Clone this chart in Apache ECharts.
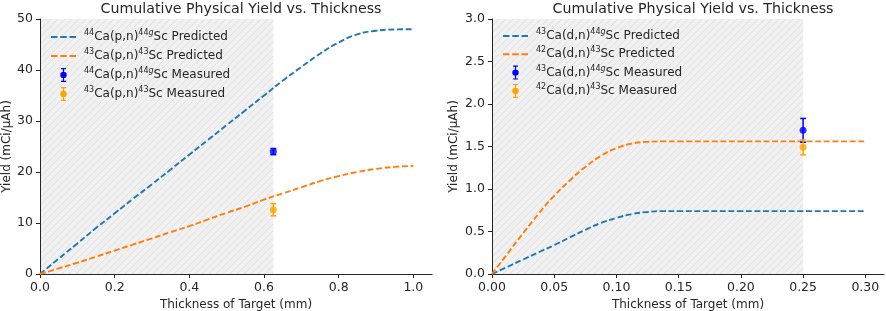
<!DOCTYPE html>
<html>
<head>
<meta charset="utf-8">
<script src="https://cdn.jsdelivr.net/npm/echarts@6/dist/echarts.min.js"></script>
<style>
  html, body { margin: 0; padding: 0; background: #fff; }
  #chart { width: 886px; height: 311px; }
</style>
</head>
<body>
<div id="chart"></div>
<script>
// left panel: (p,n) reactions
const pnThickness = [0, 0.05, 0.1, 0.15, 0.2, 0.25, 0.3, 0.35, 0.4, 0.45, 0.5, 0.55, 0.6, 0.65, 0.7, 0.75, 0.8, 0.85, 0.9, 0.95, 1.0];
const pn44Predicted = [0, 3.0, 6.0, 9.0, 11.9, 14.8, 17.6, 20.5, 23.4, 26.3, 29.2, 32.1, 35.0, 37.9, 40.6, 43.2, 45.4, 47.0, 47.7, 47.95, 48.0];
const pn43Predicted = [0, 1.1, 2.2, 3.4, 4.6, 5.8, 7.0, 8.2, 9.4, 10.7, 12.0, 13.2, 14.6, 15.8, 17.0, 18.2, 19.2, 20.0, 20.6, 21.0, 21.2];
const pn44Measured = [[0.625, 24.0, 0.6]];   // [thickness, yield, error]
const pn43Measured = [[0.625, 12.6, 1.2]];
const pnShadeEnd = 0.625;
const pnXTicks = [0, 0.2, 0.4, 0.6, 0.8, 1.0];

// right panel: (d,n) reactions
const dnThickness = [0, 0.0125, 0.025, 0.0375, 0.05, 0.0625, 0.075, 0.0875, 0.1, 0.1125, 0.125, 0.1375, 0.15, 0.2, 0.25, 0.3];
const dn43Predicted = [0, 0.085, 0.17, 0.255, 0.34, 0.43, 0.52, 0.6, 0.66, 0.705, 0.73, 0.74, 0.74, 0.74, 0.74, 0.74];
const dn42Predicted = [0, 0.24, 0.48, 0.71, 0.92, 1.1, 1.26, 1.39, 1.48, 1.535, 1.555, 1.56, 1.56, 1.56, 1.56, 1.56];
const dn43Measured = [[0.25, 1.69, 0.14]];
const dn42Measured = [[0.25, 1.49, 0.088]];
const dnShadeEnd = 0.25;
const dnXTicks = [0, 0.05, 0.1, 0.15, 0.2, 0.25, 0.3];

const names = {
    pn44p: '{s|44}Ca(p,n){s|44}{si|g}Sc Predicted',
    pn43p: '{s|43}Ca(p,n){s|43}Sc Predicted',
    pn44m: '{s|44}Ca(p,n){s|44}{si|g}Sc Measured',
    pn43m: '{s|43}Ca(p,n){s|43}Sc Measured',
    dn43p: '{s|43}Ca(d,n){s|44}{si|g}Sc Predicted',
    dn42p: '{s|42}Ca(d,n){s|43}Sc Predicted',
    dn43m: '{s|43}Ca(d,n){s|44}{si|g}Sc Measured',
    dn42m: '{s|42}Ca(d,n){s|43}Sc Measured'
};

const FONT = 'DejaVu Sans';
const axisColor = '#262626';
const C_BLUE = '#1f77b4', C_ORANGE = '#ff7f0e', M_BLUE = '#0000ff', M_ORANGE = '#ffa500';
const errIcon = 'path://M1.5,0 L6.5,0 L6.5,1.2 L4.6,1.2 L4.6,12.8 L6.5,12.8 L6.5,14 L1.5,14 L1.5,12.8 L3.4,12.8 L3.4,1.2 L1.5,1.2 Z M7.2,7 A3.2,3.2 0 1,1 0.8,7 A3.2,3.2 0 1,1 7.2,7 Z';
const dashIcon = 'path://M0,0 L6,0 L6,1.9 L0,1.9 Z M8.6,0 L14.6,0 L14.6,1.9 L8.6,1.9 Z M17.2,0 L23.2,0 L23.2,1.9 L17.2,1.9 Z';

// hatch pattern for the shaded region
const hatch = document.createElement('canvas');
hatch.width = 7; hatch.height = 7;
(function () {
    const c = hatch.getContext('2d');
    c.fillStyle = '#f1f1f1';
    c.fillRect(0, 0, 7, 7);
    c.strokeStyle = '#e2e2e2';
    c.lineWidth = 1;
    c.beginPath();
    c.moveTo(-1, 8); c.lineTo(8, -1);
    c.moveTo(-4.5, 4.5); c.lineTo(4.5, -4.5);
    c.moveTo(2.5, 11.5); c.lineTo(11.5, 2.5);
    c.stroke();
})();

const zip = (xs, ys) => xs.map((x, i) => [x, ys[i]]);

const richText = {
    s: { fontFamily: FONT, fontSize: 8, verticalAlign: 'top', lineHeight: 9, color: '#262626' },
    si: { fontFamily: FONT, fontSize: 8, fontStyle: 'italic', verticalAlign: 'top', lineHeight: 9, color: '#262626' }
};

function lineSeries(name, xi, yi, xs, ys, color, shadeEnd) {
    const s = {
        name: name, type: 'line', xAxisIndex: xi, yAxisIndex: yi,
        data: zip(xs, ys), symbol: 'none', showSymbol: false, smooth: true,
        color: color,
        lineStyle: { color: color, width: 1.9, type: [6, 2.6] },
        z: 3
    };
    if (shadeEnd !== undefined) {
        s.markArea = {
            silent: true,
            itemStyle: { color: { image: hatch, repeat: 'repeat' } },
            data: [[{ xAxis: 0 }, { xAxis: shadeEnd }]],
            z: 0
        };
    }
    return s;
}

function errorSeries(name, xi, yi, data, color) {
    return [{
        name: name, type: 'custom', xAxisIndex: xi, yAxisIndex: yi,
        color: color, data: data, z: 4,
        renderItem: function (params, api) {
            const x = api.value(0), y = api.value(1), e = api.value(2);
            const top = api.coord([x, y + e]);
            const bot = api.coord([x, y - e]);
            const cw = 3;
            const st = { stroke: color, lineWidth: 1.5 };
            return {
                type: 'group',
                children: [
                    { type: 'line', shape: { x1: top[0], y1: top[1], x2: bot[0], y2: bot[1] }, style: st },
                    { type: 'line', shape: { x1: top[0] - cw, y1: top[1], x2: top[0] + cw, y2: top[1] }, style: st },
                    { type: 'line', shape: { x1: bot[0] - cw, y1: bot[1], x2: bot[0] + cw, y2: bot[1] }, style: st }
                ]
            };
        }
    }, {
        name: name, type: 'scatter', xAxisIndex: xi, yAxisIndex: yi,
        color: color, symbol: 'circle', symbolSize: 7,
        data: data.map(d => [d[0], d[1]]), z: 5
    }];
}

function xAxis(gi, max, ticks, digits) {
    return {
        type: 'value', gridIndex: gi, min: 0, max: max,
        name: 'Thickness of Target (mm)', nameLocation: 'middle', nameGap: 24,
        nameTextStyle: { fontFamily: FONT, fontSize: 12, color: '#262626' },
        axisLine: { show: true, lineStyle: { color: axisColor, width: 1 } },
        axisTick: { show: true, length: 4, customValues: ticks, lineStyle: { color: axisColor } },
        axisLabel: {
            customValues: ticks, margin: 7,
            fontFamily: FONT, fontSize: 12.5, color: '#262626',
            formatter: v => v.toFixed(digits)
        },
        splitLine: { show: false }
    };
}

function yAxis(gi, max, interval, digits, gap) {
    return {
        type: 'value', gridIndex: gi, min: 0, max: max, interval: interval,
        name: 'Yield (mCi/\u03bcAh)', nameLocation: 'middle', nameGap: gap,
        nameTextStyle: { fontFamily: FONT, fontSize: 12, color: '#262626' },
        axisLine: { show: true, lineStyle: { color: axisColor, width: 1 } },
        axisTick: { show: true, length: 4, lineStyle: { color: axisColor } },
        axisLabel: {
            margin: 7, fontFamily: FONT, fontSize: 12.5, color: '#262626',
            formatter: v => v.toFixed(digits)
        },
        splitLine: { show: false }
    };
}

function legend(left, top, entries, gap) {
    return {
        orient: 'vertical', left: left, top: top,
        itemWidth: 25, itemHeight: 14, itemGap: gap,
        symbolKeepAspect: true,
        data: entries,
        formatter: n => n,
        textStyle: {
            fontFamily: FONT, fontSize: 12, color: '#262626', lineHeight: 16,
            padding: [0, 0, 0, 3],
            rich: richText
        }
    };
}

const lineKey = name => ({ name: name, icon: dashIcon });
const errKey = name => ({ name: name, icon: errIcon });

const chart = echarts.init(document.getElementById('chart'), null, { renderer: 'canvas' });

const option = {
    backgroundColor: '#ffffff',
    animation: false,
    title: [
        { text: 'Cumulative Physical Yield vs. Thickness', left: 236, top: -3, textAlign: 'center',
          textStyle: { fontFamily: FONT, fontSize: 14.2, fontWeight: 'normal', color: '#262626' } },
        { text: 'Cumulative Physical Yield vs. Thickness', left: 688, top: -3, textAlign: 'center',
          textStyle: { fontFamily: FONT, fontSize: 14.2, fontWeight: 'normal', color: '#262626' } }
    ],
    grid: [
        { left: 40, top: 19, width: 392, height: 255, outerBoundsMode: 'none', containLabel: false },
        { left: 492, top: 19, width: 392, height: 255, outerBoundsMode: 'none', containLabel: false }
    ],
    legend: [
        legend(46, 24, [lineKey(names.pn44p), lineKey(names.pn43p), errKey(names.pn44m), errKey(names.pn43m)], 3),
        legend(498, 23, [lineKey(names.dn43p), lineKey(names.dn42p), errKey(names.dn43m), errKey(names.dn42m)], 2.3)
    ],
    xAxis: [
        xAxis(0, 1.05, pnXTicks, 1),
        xAxis(1, 0.315, dnXTicks, 2)
    ],
    yAxis: [
        yAxis(0, 50, 10, 0, 26),
        yAxis(1, 3, 0.5, 1, 32)
    ],
    series: [
        lineSeries(names.pn44p, 0, 0, pnThickness, pn44Predicted, C_BLUE, pnShadeEnd),
        lineSeries(names.pn43p, 0, 0, pnThickness, pn43Predicted, C_ORANGE),
        ...errorSeries(names.pn44m, 0, 0, pn44Measured, M_BLUE),
        ...errorSeries(names.pn43m, 0, 0, pn43Measured, M_ORANGE),
        lineSeries(names.dn43p, 1, 1, dnThickness, dn43Predicted, C_BLUE, dnShadeEnd),
        lineSeries(names.dn42p, 1, 1, dnThickness, dn42Predicted, C_ORANGE),
        ...errorSeries(names.dn43m, 1, 1, dn43Measured, M_BLUE),
        ...errorSeries(names.dn42m, 1, 1, dn42Measured, M_ORANGE)
    ]
};

chart.setOption(option);
</script>
</body>
</html>
